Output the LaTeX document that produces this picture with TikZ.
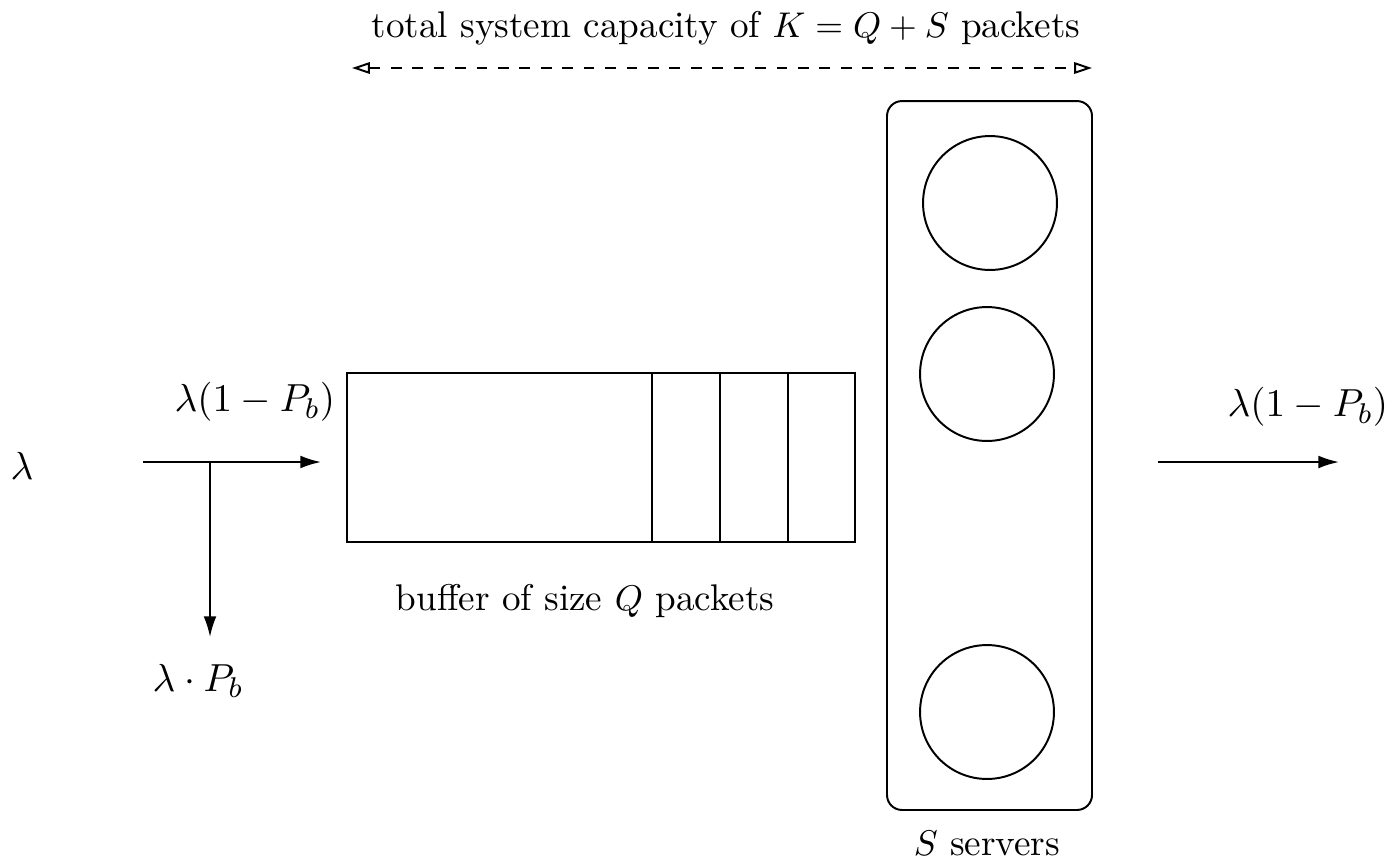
\documentclass[tikz,border=0pt]{standalone}
\usetikzlibrary{arrows.meta}
\begin{document}
\begin{tikzpicture}[x=0.28pt,y=-0.28pt,
  line width=0.55pt,
  font=\fontsize{10.4}{12.5}\selectfont,
  lbl/.style={inner sep=0pt},
  mlbl/.style={inner sep=0pt,font=\fontsize{11.2}{13.4}\selectfont},
  srv/.style={draw,circle,minimum size=37.5pt,inner sep=0pt},
  flow/.style={-{Latex[length=5.8pt,width=3.6pt]}},
  span/.style={dashed,{Triangle[open,length=5pt,width=3.2pt]}-{Triangle[open,length=5pt,width=3.2pt]}}]
\useasboundingbox (0,0) rectangle (1393,861);
% top label and span
\node[lbl] (cap) at (726,28) {total system capacity of $K=Q+S$ packets};
\coordinate (spanL) at (352,68);
\coordinate (spanR) at (1092,68);
\draw[span] (spanL) -- (spanR);
% servers box
\node[draw,rounded corners=4.2pt,minimum width=57.4pt,minimum height=198.5pt,inner sep=0pt] (box) at (989.5,455.5) {};
\node[srv] (s1) at (990,203) {};
\node[srv] (s2) at (987,374) {};
\node[srv] (s3) at (987,712) {};
\node[lbl] (sl) at (987,843) {$S$ servers};
% buffer
\node[draw,minimum width=142.2pt,minimum height=47.3pt,inner sep=0pt] (buf) at (601,457.5) {};
\draw (652,373) -- (652,542);
\draw (720,373) -- (720,542);
\draw (788,373) -- (788,542);
\node[lbl] (bl) at (585,601) {buffer of size $Q$ packets};
% input
\node[mlbl] (lam) at (22,466) {$\lambda$};
\coordinate (inS) at (143,462);
\coordinate (inE) at (321,462);
\coordinate (br) at (210,462);
\coordinate (brE) at (210,637);
\draw[flow] (inS) -- (inE);
\draw[flow] (br) -- (brE);
\node[mlbl,anchor=east] (inl) at (336,402) {$\lambda(1-P_b)$};
\node[mlbl] (pbl) at (198,681) {$\lambda\cdot P_b$};
% output
\coordinate (outS) at (1158,462);
\coordinate (outE) at (1339,462);
\draw[flow] (outS) -- (outE);
\node[mlbl,anchor=east] (outl) at (1389,407) {$\lambda(1-P_b)$};
\end{tikzpicture}
\end{document}
